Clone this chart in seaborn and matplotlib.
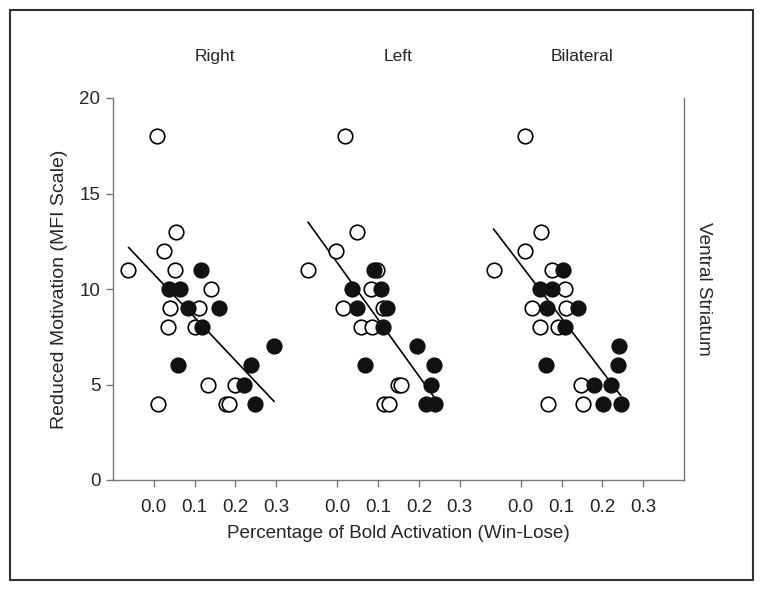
import numpy as np
import pandas as pd
import matplotlib
matplotlib.use("Agg")
import matplotlib.pyplot as plt
import seaborn as sns

sns.set_style("white")
plt.rcParams['font.family'] = ['Liberation Sans Narrow', 'Liberation Sans', 'DejaVu Sans']

# Panels and the horizontal spacing between them on the shared x axis
panels = ['Right', 'Left', 'Bilateral']
panel_gap = 0.45

# Right hemisphere
right_open_x = [0.007, 0.054, 0.025, -0.062, 0.052, 0.141, 0.040, 0.110, 0.034, 0.102,
                0.132, 0.200, 0.011, 0.177, 0.185]
right_open_y = [18, 13, 12, 11, 11, 10, 9, 9, 8, 8, 5, 5, 4, 4, 4]
right_fill_x = [0.115, 0.037, 0.065, 0.083, 0.159, 0.118, 0.295, 0.059, 0.238, 0.220, 0.247]
right_fill_y = [11, 10, 10, 9, 9, 8, 7, 6, 6, 5, 4]

# Left hemisphere
left_open_x = [0.018, 0.048, -0.004, -0.072, 0.098, 0.082, 0.014, 0.113, 0.057, 0.085,
               0.150, 0.156, 0.114, 0.126]
left_open_y = [18, 13, 12, 11, 11, 10, 9, 9, 8, 8, 5, 5, 4, 4]
left_fill_x = [0.091, 0.036, 0.108, 0.048, 0.121, 0.113, 0.196, 0.067, 0.237, 0.229, 0.217, 0.240]
left_fill_y = [11, 10, 10, 9, 9, 8, 7, 6, 6, 5, 4, 4]

# Bilateral
bil_open_x = [0.010, 0.050, 0.010, -0.067, 0.076, 0.108, 0.027, 0.110, 0.046, 0.091,
              0.148, 0.067, 0.153]
bil_open_y = [18, 13, 12, 11, 11, 10, 9, 9, 8, 8, 5, 4, 4]
bil_fill_x = [0.103, 0.046, 0.076, 0.063, 0.139, 0.109, 0.241, 0.062, 0.238, 0.180, 0.220,
              0.201, 0.245]
bil_fill_y = [11, 10, 10, 9, 9, 8, 7, 6, 6, 5, 5, 4, 4]

tick_vals = [0.0, 0.1, 0.2, 0.3]
tick_labels = ['0.0', '0.1', '0.2', '0.3']

rows = []
groups = [(right_open_x, right_open_y, right_fill_x, right_fill_y),
          (left_open_x, left_open_y, left_fill_x, left_fill_y),
          (bil_open_x, bil_open_y, bil_fill_x, bil_fill_y)]
for i, (ox, oy, fx, fy) in enumerate(groups):
    for x, y in zip(ox, oy):
        rows.append({'panel': panels[i], 'x': x + i * panel_gap, 'y': y, 'kind': 'open'})
    for x, y in zip(fx, fy):
        rows.append({'panel': panels[i], 'x': x + i * panel_gap, 'y': y, 'kind': 'filled'})
df = pd.DataFrame(rows)

fig = plt.figure(figsize=(7.64, 5.91), dpi=100)
ax = fig.add_axes([113 / 764, 1 - 480 / 591, (684 - 113) / 764, (480 - 98) / 591])

for i, p in enumerate(panels):
    sub = df[df['panel'] == p]
    sns.regplot(data=sub, x='x', y='y', scatter=False, ci=None, truncate=True,
                color='black', line_kws={'linewidth': 1.2}, ax=ax)
    op = sub[sub['kind'] == 'open']
    fl = sub[sub['kind'] == 'filled']
    sns.scatterplot(data=op, x='x', y='y', s=110, color='white', edgecolor='black',
                    linewidth=1.2, ax=ax, zorder=3)
    sns.scatterplot(data=fl, x='x', y='y', s=110, color='#111111', edgecolor='#111111',
                    linewidth=1.2, ax=ax, zorder=4)
    ax.text(0.15 + i * panel_gap, 22.15, p, ha='center', va='center', fontsize=12.5)

ticks = [t + i * panel_gap for i in range(3) for t in tick_vals]
ax.set_xticks(ticks)
ax.set_xticklabels(tick_labels * 3)
ax.set_xlim(-0.1, 0.4 + 2 * panel_gap)
ax.set_ylim(0, 20)
ax.set_yticks([0, 5, 10, 15, 20])
ax.set_xlabel('Percentage of Bold Activation (Win-Lose)', fontsize=13.6, labelpad=6)
ax.set_ylabel('Reduced Motivation (MFI Scale)', fontsize=14, labelpad=8)
ax.tick_params(axis='both', direction='out', length=5, width=1, color='#777777',
               labelsize=13.5, bottom=True, left=True, pad=4)
ax.tick_params(axis='x', pad=9)

for side in ['left', 'bottom', 'right']:
    ax.spines[side].set_color('#777777')
    ax.spines[side].set_linewidth(1)
ax.spines['top'].set_visible(False)

ax.text(1.035, 0.5, 'Ventral Striatum', transform=ax.transAxes, rotation=-90,
        ha='center', va='center', fontsize=13.6)

# outer frame around the whole figure
frame = plt.Rectangle((10 / 764, 1 - 580 / 591), (753 - 10) / 764, (580 - 10) / 591,
                      transform=fig.transFigure, fill=False, edgecolor='#333333', linewidth=1.5)
fig.patches.append(frame)

fig.savefig('out.png', dpi=100)
